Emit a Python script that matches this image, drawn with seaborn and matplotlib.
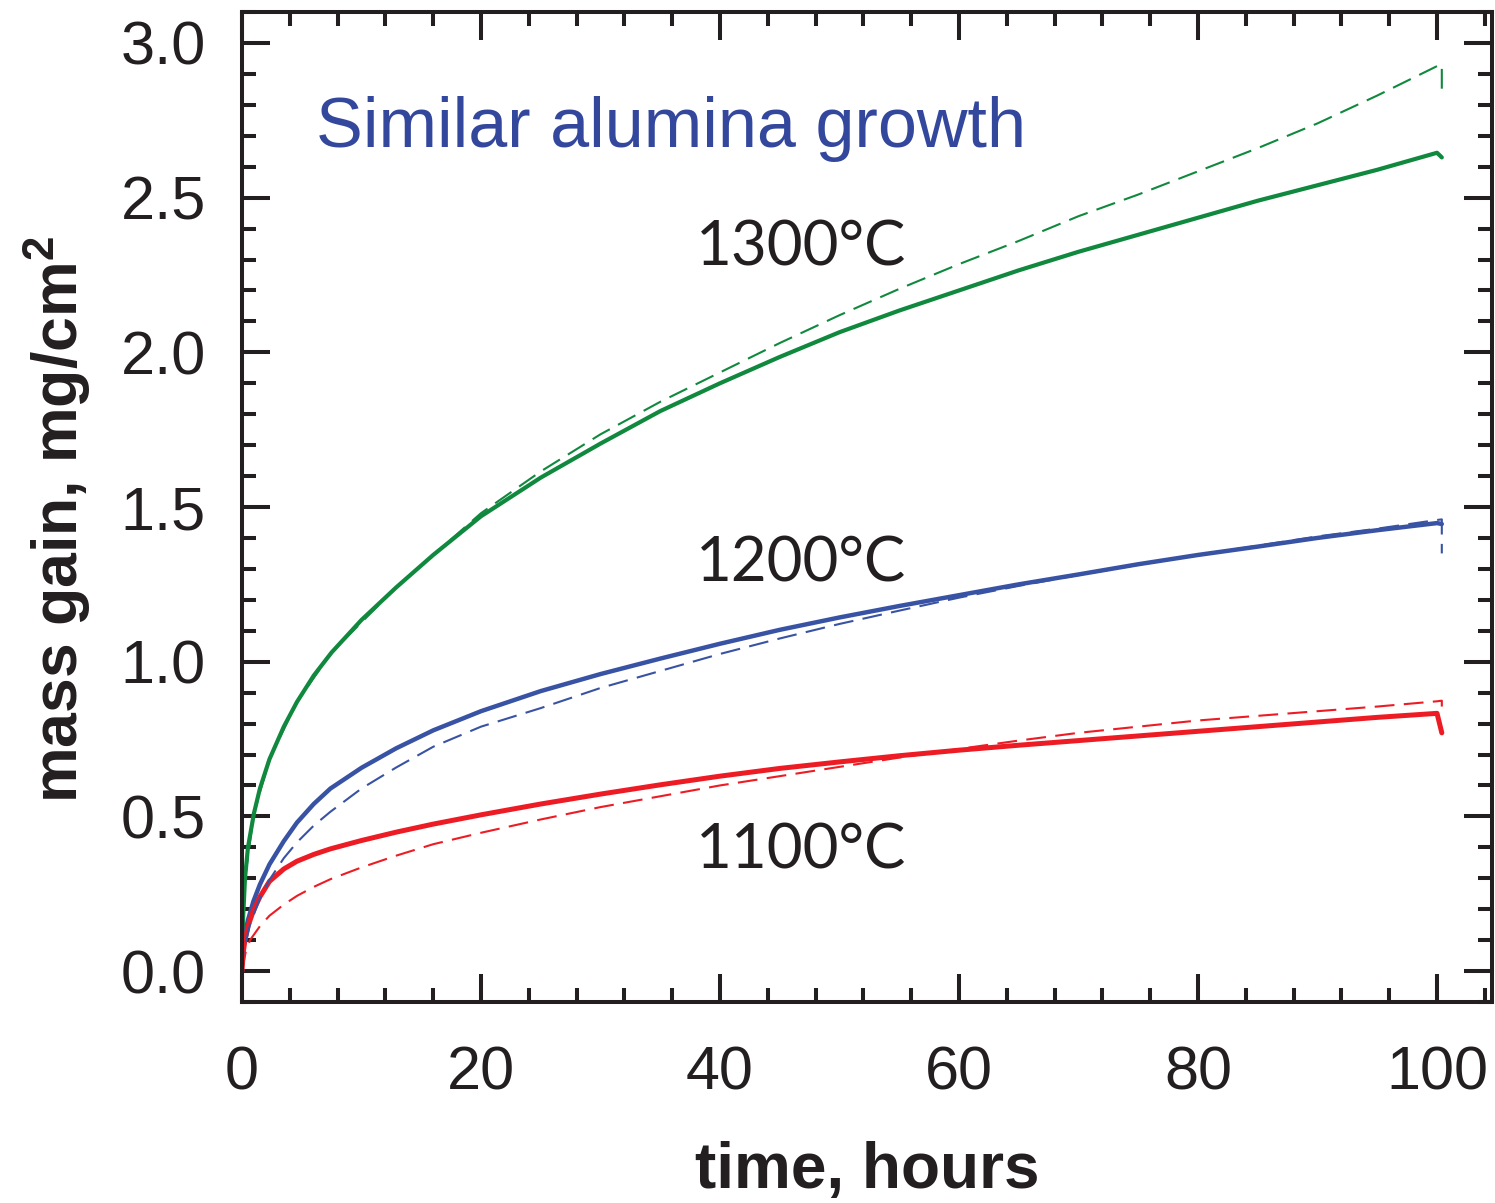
import numpy as np
import pandas as pd
import matplotlib
matplotlib.use("Agg")
import matplotlib.pyplot as plt
import seaborn as sns
from matplotlib.ticker import MultipleLocator

# ---------------- data ----------------
t_1300_solid = [0, 0.1, 0.25, 0.5, 1, 1.5, 2.3, 3.5, 4.6, 6, 7.5, 10, 12.9, 16, 20, 25, 30, 35, 40,
                45, 50, 55, 60, 65, 70, 75, 80, 85, 90, 95, 100, 100.4]
m_1300_solid = [0.02, 0.18, 0.30, 0.40, 0.51, 0.59, 0.685, 0.79, 0.87, 0.955, 1.03, 1.135, 1.24,
                1.345, 1.47, 1.595, 1.705, 1.81, 1.90, 1.985, 2.065, 2.135, 2.20, 2.265, 2.325,
                2.38, 2.435, 2.49, 2.54, 2.59, 2.645, 2.63]

t_1300_dash = [0, 0.25, 1, 2.3, 4.6, 7.5, 12.9, 20, 25, 30, 35, 40, 45, 50, 55, 60, 65, 70, 75,
               80, 85, 90, 95, 100, 100.4, 100.4]
m_1300_dash = [0.02, 0.30, 0.51, 0.685, 0.87, 1.03, 1.24, 1.48, 1.615, 1.735, 1.84, 1.935, 2.03,
               2.12, 2.205, 2.285, 2.36, 2.44, 2.51, 2.585, 2.66, 2.74, 2.83, 2.925, 2.93, 2.83]

t_1200_solid = [0, 0.25, 0.5, 0.95, 1.5, 2.3, 3.5, 4.6, 6, 7.4, 10, 12.9, 16, 20, 25, 30, 35, 40,
                45, 50, 55, 60, 65, 70, 75, 80, 85, 90, 95, 100, 100.4]
m_1200_solid = [0.05, 0.12, 0.165, 0.225, 0.28, 0.345, 0.42, 0.48, 0.54, 0.59, 0.657, 0.72,
                0.778, 0.84, 0.905, 0.96, 1.01, 1.058, 1.103, 1.143, 1.18, 1.215, 1.25, 1.282,
                1.315, 1.345, 1.372, 1.40, 1.425, 1.448, 1.445]

t_1200_dash = [0, 0.3, 0.67, 1.5, 2.3, 3.5, 4.6, 6, 7.4, 10, 12.9, 16, 20, 25, 30, 35, 40, 45, 50,
               55, 60, 65, 70, 75, 80, 85, 90, 95, 100, 100.4, 100.4]
m_1200_dash = [0.0, 0.09, 0.15, 0.235, 0.295, 0.365, 0.416, 0.47, 0.515, 0.59, 0.658, 0.725, 0.79,
               0.85, 0.915, 0.97, 1.025, 1.075, 1.122, 1.165, 1.207, 1.245, 1.28, 1.313, 1.345,
               1.375, 1.405, 1.43, 1.458, 1.46, 1.35]

t_1100_solid = [0, 0.1, 0.25, 0.5, 0.95, 1.5, 2.3, 3.5, 4.6, 6, 7.4, 10, 12.9, 16, 20, 25, 30, 35,
                40, 45, 50, 55, 60, 65, 70, 75, 80, 85, 90, 95, 100, 100.4]
m_1100_solid = [0.0, 0.06, 0.10, 0.145, 0.195, 0.24, 0.29, 0.33, 0.355, 0.377, 0.395, 0.422,
                0.449, 0.475, 0.505, 0.54, 0.572, 0.602, 0.63, 0.655, 0.676, 0.696, 0.714, 0.73,
                0.745, 0.76, 0.775, 0.79, 0.805, 0.82, 0.833, 0.77]

t_1100_dash = [0, 0.3, 0.67, 1.5, 2.3, 3.5, 4.6, 6, 7.4, 10, 12.9, 16, 20, 25, 30, 35, 40, 45, 50,
               55, 60, 65, 70, 75, 80, 85, 90, 95, 100, 100.4, 100.4]
m_1100_dash = [0.0, 0.06, 0.10, 0.145, 0.179, 0.215, 0.243, 0.272, 0.297, 0.335, 0.373, 0.41,
               0.447, 0.49, 0.53, 0.565, 0.60, 0.63, 0.66, 0.69, 0.718, 0.745, 0.77, 0.79, 0.81,
               0.825, 0.84, 0.855, 0.872, 0.874, 0.855]

temp_labels = ["1300°C", "1200°C", "1100°C"]
temp_label_x = [38.0, 38.0, 38.0]
temp_label_y = [2.279, 1.26, 0.331]
title_text = "Similar alumina growth"

green = "#10893e"
blue = "#3953a4"
red = "#ed1c24"
ink = "#231f20"
title_blue = "#33479d"

# ---------------- style ----------------
sns.set_theme(style="ticks")
plt.rcParams["font.family"] = ["Liberation Sans", "DejaVu Sans"]
plt.rcParams["mathtext.fontset"] = "custom"
plt.rcParams["mathtext.bf"] = "Liberation Sans:bold"
plt.rcParams["mathtext.rm"] = "Liberation Sans"

fig = plt.figure(figsize=(14.95, 12.03), dpi=100)
ax = fig.add_axes([242 / 1495, 201 / 1203, 1250 / 1495, 990 / 1203])

dash = (0, (9.5, 4.5))
series = [
    (t_1300_solid, m_1300_solid, green, "-", 3.0),
    (t_1200_solid, m_1200_solid, blue, "-", 3.2),
    (t_1100_solid, m_1100_solid, red, "-", 3.6),
    (t_1300_dash, m_1300_dash, green, dash, 1.5),
    (t_1200_dash, m_1200_dash, blue, dash, 1.5),
    (t_1100_dash, m_1100_dash, red, dash, 1.5),
]
for tt, mm, col, ls, lw in series:
    df = pd.DataFrame({"t": tt, "m": mm})
    sns.lineplot(data=df, x="t", y="m", ax=ax, color=col, linestyle=ls, linewidth=lw,
                 estimator=None, sort=False, solid_capstyle="round", solid_joinstyle="round")

ax.set_xlim(0, 104.6)
ax.set_ylim(-0.1, 3.1)

ax.xaxis.set_major_locator(MultipleLocator(20))
ax.xaxis.set_minor_locator(MultipleLocator(4))
ax.yaxis.set_major_locator(MultipleLocator(0.5))
ax.yaxis.set_minor_locator(MultipleLocator(0.1))
ax.yaxis.set_major_formatter(matplotlib.ticker.FormatStrFormatter("%.1f"))

for s in ax.spines.values():
    s.set_visible(True)
    s.set_linewidth(2.9)
    s.set_color(ink)

ax.tick_params(which="both", direction="in", top=True, right=True, color=ink, width=2.9,
               labelcolor=ink, labelsize=44)
ax.tick_params(which="major", length=20)
ax.tick_params(which="minor", length=10)
ax.tick_params(axis="y", which="major", pad=26)
ax.tick_params(axis="x", which="major", pad=31)

ax.set_xlabel("time, hours", fontsize=46, fontweight="bold", color=ink, labelpad=28)
ax.set_ylabel(r"mass gain, mg/cm$^\mathbf{2}$", fontsize=45, fontweight="bold", color=ink)
ax.yaxis.set_label_coords(-0.119, 0.487)

ax.text(6.2, 2.663, title_text, fontsize=50.5, color=title_blue, va="baseline", ha="left")
for lab, xx, yy in zip(temp_labels, temp_label_x, temp_label_y):
    ax.text(xx, yy, lab, fontsize=44.5, color=ink, va="baseline", ha="left",
            family=["Lato", "DejaVu Sans"])

fig.savefig("out.png", dpi=100)
